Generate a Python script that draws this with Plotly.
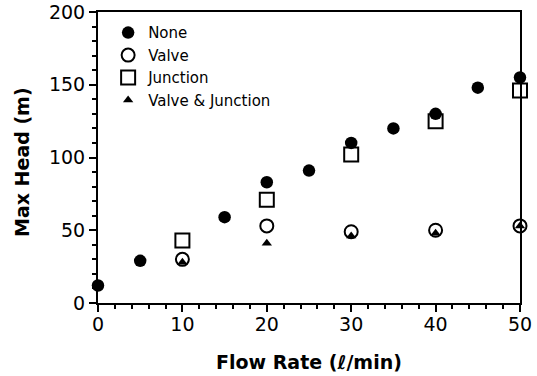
import plotly.graph_objects as go

none_x = [0, 5, 15, 20, 25, 30, 35, 40, 45, 50]
none_y = [12, 29, 59, 83, 91, 110, 120, 130, 148, 155]

valve_x = [10, 20, 30, 40, 50]
valve_y = [30, 53, 49, 50, 53]

junction_x = [10, 20, 30, 40, 50]
junction_y = [43, 71, 102, 125, 146]

vj_x = [10, 20, 30, 40, 50]
vj_y = [28, 41, 46, 48, 53]

x_ticks = [0, 10, 20, 30, 40, 50]
y_ticks = [0, 50, 100, 150, 200]

x_title = "<b>Flow Rate (ℓ/min)</b>"
y_title = "<b>Max Head (m)</b>"

FONT = "DejaVu Sans, sans-serif"

fig = go.Figure()
fig.add_trace(go.Scatter(x=none_x, y=none_y, mode="markers", name="None",
                         marker=dict(symbol="circle", size=12.5, color="black"),
                         cliponaxis=False))
fig.add_trace(go.Scatter(x=valve_x, y=valve_y, mode="markers", name="Valve",
                         marker=dict(symbol="circle-open", size=13, color="black",
                                     line=dict(width=2, color="black")),
                         cliponaxis=False))
fig.add_trace(go.Scatter(x=junction_x, y=junction_y, mode="markers", name="Junction",
                         marker=dict(symbol="square-open", size=14, color="black",
                                     line=dict(width=2, color="black")),
                         cliponaxis=False))
fig.add_trace(go.Scatter(x=vj_x, y=vj_y, mode="markers", name="Valve & Junction",
                         marker=dict(symbol="triangle-up", size=9, color="black"),
                         cliponaxis=False))

fig.update_layout(
    width=537, height=376,
    margin=dict(l=98, r=17, t=12, b=73, autoexpand=False),
    paper_bgcolor="white", plot_bgcolor="white",
    font=dict(family=FONT, color="black", size=19),
    showlegend=True,
    legend=dict(x=0.024, y=0.985, xanchor="left", yanchor="top",
                bgcolor="rgba(0,0,0,0)", font=dict(size=15, family=FONT),
                tracegroupgap=0, itemsizing="trace"),
    annotations=[
        dict(text=x_title, xref="paper", yref="paper", x=0.5, y=-(362 - 303) / 291,
             xanchor="center", yanchor="middle", showarrow=False,
             font=dict(size=19, family=FONT)),
        dict(text=y_title, xref="paper", yref="paper", x=-(98 - 22) / 422, y=(303 - 162) / 291,
             xanchor="center", yanchor="middle", showarrow=False, textangle=-90,
             font=dict(size=19, family=FONT)),
    ],
)
fig.update_xaxes(
    range=[0, 50], tickvals=x_ticks, showgrid=False, zeroline=False, automargin=False,
    showline=True, linecolor="black", linewidth=2, mirror=True,
    ticks="outside", ticklen=7, tickwidth=2, tickcolor="black",
    minor=dict(dtick=2, ticks="outside", ticklen=4, tickwidth=1.5, tickcolor="black"),
    tickfont=dict(size=19), ticklabelstandoff=-4,
)
fig.update_yaxes(
    range=[0, 200], tickvals=y_ticks, showgrid=False, zeroline=False, automargin=False,
    showline=True, linecolor="black", linewidth=2, mirror=True,
    ticks="outside", ticklen=7, tickwidth=2, tickcolor="black",
    minor=dict(dtick=10, ticks="outside", ticklen=4, tickwidth=1.5, tickcolor="black"),
    tickfont=dict(size=19), ticklabelstandoff=0,
)

fig.write_html("out.html")
